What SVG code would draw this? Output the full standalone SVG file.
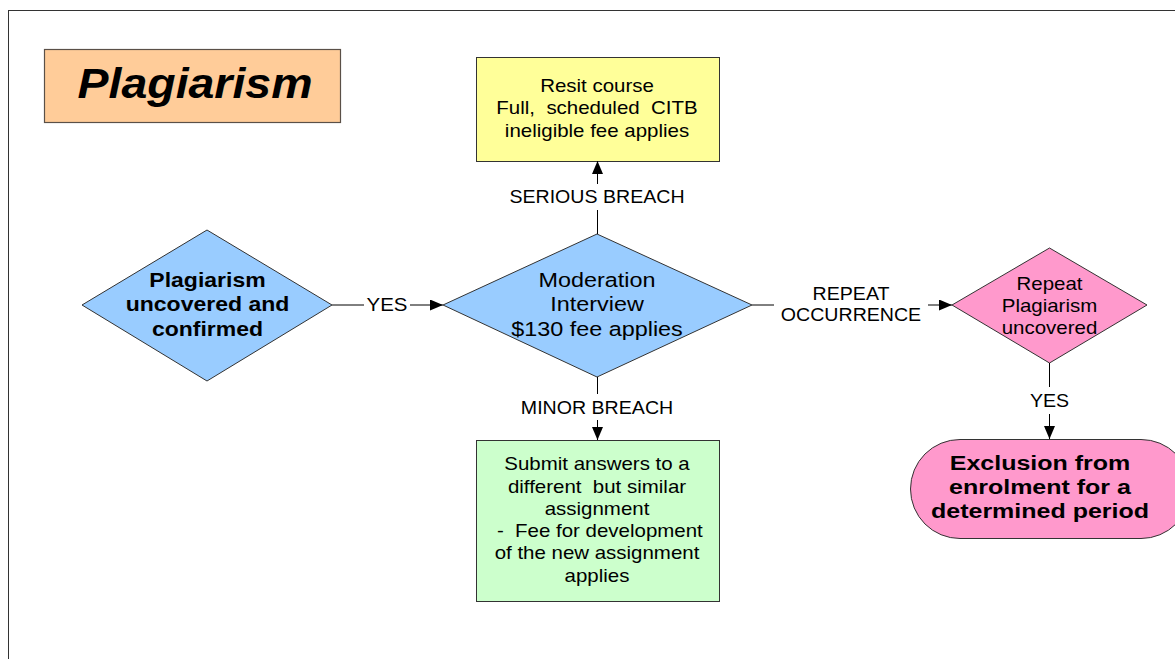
<svg xmlns="http://www.w3.org/2000/svg" width="1175" height="659" viewBox="0 0 1175 659">
<style>
text{font-family:"Liberation Sans",Arial,sans-serif;fill:#000;text-anchor:middle;white-space:pre}
.b{font-weight:bold}
.n{font-size:17.5px}
.d{font-size:19.5px}
.lbl{font-size:17.5px}
.shape{stroke:#333;stroke-width:1}
.con{stroke:#000;stroke-width:1;fill:none}
</style>
<defs>
<marker id="ah" markerUnits="userSpaceOnUse" markerWidth="14" markerHeight="12" refX="13" refY="5.5" orient="auto">
<path d="M0,0 L13,5.5 L0,11 z" fill="#000"/>
</marker>
</defs>
<rect width="1175" height="659" fill="#fff"/>
<rect x="8.5" y="10.5" width="1200" height="700" fill="none" stroke="#333" stroke-width="1"/>

<g id="title">
<rect x="44.5" y="49.5" width="296" height="73" fill="#FFCC99" stroke="#5a5048" stroke-width="1.2"/>
<text class="b" style="font-style:italic;font-size:43px" transform="matrix(1.08 0 0 1 195 0)" x="0" y="98">Plagiarism</text>
</g>

<g id="start">
<polygon class="shape" points="82,305 207,230 332,305 207,381" fill="#99CCFF"/>
<text class="b d" transform="matrix(1.18 0 0 1 207.5 0)"><tspan x="0" y="287">Plagiarism</tspan><tspan x="0" y="311">uncovered and</tspan><tspan x="0" y="336">confirmed</tspan></text>
</g>

<g id="moderation">
<polygon class="shape" points="443,305 597,234 752,305 597,377" fill="#99CCFF"/>
<text class="d" transform="matrix(1.2 0 0 1 597 0)"><tspan x="0" y="287">Moderation</tspan><tspan x="0" y="311">Interview</tspan><tspan x="0" y="336">$130 fee applies</tspan></text>
</g>

<g id="resit">
<rect class="shape" x="476.5" y="57.5" width="243" height="104" fill="#FFFF99"/>
<text class="n" transform="matrix(1.17 0 0 1 597 0)"><tspan x="0" y="92">Resit course</tspan><tspan x="0" y="114">Full,  scheduled  CITB</tspan><tspan x="0" y="137">ineligible fee applies</tspan></text>
</g>

<g id="submit">
<rect class="shape" x="476.5" y="440.5" width="243" height="161" fill="#CCFFCC"/>
<text class="n" transform="matrix(1.17 0 0 1 597 0)"><tspan x="0" y="470">Submit answers to a</tspan><tspan x="0" y="493">different  but similar</tspan><tspan x="0" y="515">assignment</tspan><tspan x="0" y="537"> -  Fee for development</tspan><tspan x="0" y="559">of the new assignment</tspan><tspan x="0" y="582">applies</tspan></text>
</g>

<g id="repeat">
<polygon class="shape" points="952,305 1049.5,248 1147,305 1049.5,363" fill="#FF99CC"/>
<text class="n" transform="matrix(1.17 0 0 1 1049.5 0)"><tspan x="0" y="290">Repeat</tspan><tspan x="0" y="312">Plagiarism</tspan><tspan x="0" y="334">uncovered</tspan></text>
</g>

<g id="exclusion">
<rect class="shape" x="910.5" y="439.5" width="280" height="99" rx="49.5" ry="49.5" fill="#FF99CC"/>
<text class="b" style="font-size:20px" transform="matrix(1.25 0 0 1 1040 0)"><tspan x="0" y="470">Exclusion from</tspan><tspan x="0" y="494">enrolment for a</tspan><tspan x="0" y="518">determined period</tspan></text>
</g>

<g id="connectors">
<line class="con" x1="332" y1="305" x2="364" y2="305"/>
<line class="con" x1="410" y1="305" x2="443" y2="305" marker-end="url(#ah)"/>
<text class="lbl" transform="matrix(1.17 0 0 1 387 0)" x="0" y="311">YES</text>

<line class="con" x1="597.5" y1="234" x2="597.5" y2="210"/>
<line class="con" x1="597.5" y1="184" x2="597.5" y2="161" marker-end="url(#ah)"/>
<text class="lbl" transform="matrix(1.12 0 0 1 597 0)" x="0" y="203">SERIOUS BREACH</text>

<line class="con" x1="597.5" y1="377" x2="597.5" y2="394"/>
<line class="con" x1="597.5" y1="420" x2="597.5" y2="440" marker-end="url(#ah)"/>
<text class="lbl" transform="matrix(1.12 0 0 1 597 0)" x="0" y="414">MINOR BREACH</text>

<line class="con" x1="752" y1="305" x2="774" y2="305" stroke="#666"/>
<line class="con" x1="928" y1="305" x2="952" y2="305" marker-end="url(#ah)"/>
<text class="lbl" transform="matrix(1.12 0 0 1 851 0)"><tspan x="0" y="300">REPEAT</tspan><tspan x="0" y="321">OCCURRENCE</tspan></text>

<line class="con" x1="1049.5" y1="363" x2="1049.5" y2="387"/>
<line class="con" x1="1049.5" y1="414" x2="1049.5" y2="439" marker-end="url(#ah)"/>
<text class="lbl" transform="matrix(1.12 0 0 1 1049.5 0)" x="0" y="407">YES</text>
</g>
</svg>
